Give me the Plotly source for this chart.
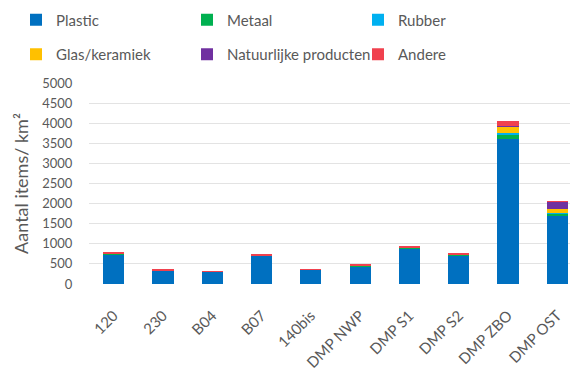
import plotly.graph_objects as go

# Sampling stations
stations = ["120", "230", "B04", "B07", "140bis", "DMP NWP", "DMP S1", "DMP S2", "DMP ZBO", "DMP OST"]

# Litter density per material category (items/km²)
plastic = [740, 340, 305, 700, 355, 445, 885, 715, 3600, 1680]
metaal = [10, 0, 0, 20, 5, 15, 15, 25, 130, 70]
rubber = [10, 0, 0, 0, 0, 5, 5, 5, 30, 10]
glas_keramiek = [0, 0, 0, 0, 0, 0, 0, 0, 150, 100]
natuurlijke_producten = [0, 0, 0, 0, 0, 0, 0, 0, 20, 180]
andere = [30, 10, 5, 5, 5, 25, 50, 5, 130, 20]

series = [
    ("Plastic", plastic, "#0070C0", "legend"),
    ("Metaal", metaal, "#00B050", "legend"),
    ("Rubber", rubber, "#00B0F0", "legend"),
    ("Glas/keramiek", glas_keramiek, "#FFC000", "legend2"),
    ("Natuurlijke producten", natuurlijke_producten, "#7030A0", "legend2"),
    ("Andere", andere, "#F0414E", "legend2"),
]

FONT = "Lato"
GREY = "#595959"

fig = go.Figure()
for name, vals, color, leg in series:
    fig.add_trace(go.Bar(
        x=stations, y=vals, name=name, legend=leg,
        marker=dict(color=color, line=dict(width=0)),
    ))

# two legend rows of three entries, above the plot area
legend_style = dict(
    orientation="h", xref="paper", yref="paper",
    xanchor="left", yanchor="middle", x=(16 - 89) / 481,
    entrywidth=126, entrywidthmode="pixels", traceorder="normal",
    font=dict(family=FONT, size=15, color=GREY),
    bgcolor="rgba(0,0,0,0)", itemclick=False,
)

fig.update_layout(
    width=570, height=381,
    margin=dict(l=89, r=0, t=83, b=97, autoexpand=False),
    paper_bgcolor="white", plot_bgcolor="white",
    barmode="stack", bargap=0.57,
    font=dict(family=FONT, color=GREY),
    legend=dict(**legend_style, y=(284 - 20) / 201),
    legend2=dict(**legend_style, y=(284 - 54.5) / 201),
    xaxis=dict(
        range=[-0.5, 9.257], tickangle=-45,
        tickfont=dict(family=FONT, size=15, color=GREY),
        showgrid=False, showline=False,
        ticks="outside", ticklen=16, tickcolor="rgba(0,0,0,0)",
    ),
    yaxis=dict(
        range=[0, 5000], dtick=500,
        tickfont=dict(family=FONT, size=13, color=GREY),
        gridcolor="#E3E3E3", gridwidth=1, zeroline=False,
        ticks="outside", ticklen=13, tickcolor="rgba(0,0,0,0)",
        title=dict(text="Aantal items/ km²", font=dict(family=FONT, size=18, color=GREY), standoff=8),
    ),
)

fig.write_html("out.html")
